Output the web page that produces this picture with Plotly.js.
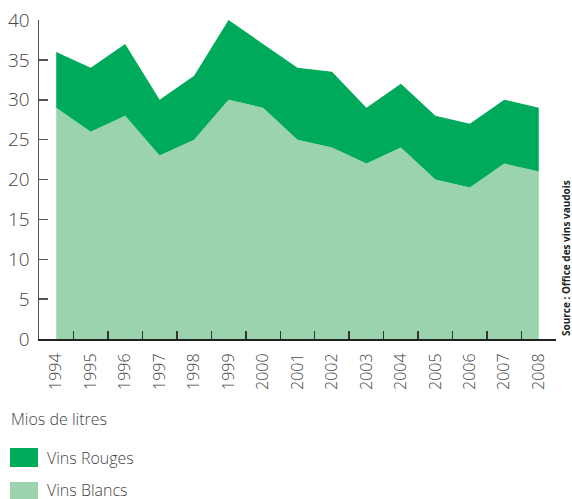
<!DOCTYPE html>
<html>
<head>
<meta charset="utf-8">
<script src="https://cdn.plot.ly/plotly-3.0.1.min.js"></script>
<style>html,body{margin:0;padding:0;background:#fff;}#chart{width:572px;height:499px;}</style>
</head>
<body>
<div id="chart"></div>
<script>
const years = ['1994','1995','1996','1997','1998','1999','2000','2001','2002','2003','2004','2005','2006','2007','2008'];
const vinsBlancs = [29, 26, 28, 23, 25, 30, 29, 25, 24, 22, 24, 20, 19, 22, 21];
const vinsRouges = [7, 8, 9, 7, 8, 10, 8, 9, 9.5, 7, 8, 8, 8, 8, 8];
const yTicks = [0, 5, 10, 15, 20, 25, 30, 35, 40];
const unitLabel = 'Mios de litres';
const sourceLabel = 'Source : Office des vins vaudois';
const seriesNames = ['Vins Rouges', 'Vins Blancs'];

const colRouge = '#00aa5b';
const colBlanc = '#9bd3ae';
const font = '"Open Sans", "DejaVu Sans", sans-serif';

const traces = [
  {x: years, y: vinsBlancs, name: seriesNames[1], type: 'scatter', mode: 'lines',
   stackgroup: 'one', line: {width: 0, color: colBlanc}, fillcolor: colBlanc, hoverinfo: 'skip'},
  {x: years, y: vinsRouges, name: seriesNames[0], type: 'scatter', mode: 'lines',
   stackgroup: 'one', line: {width: 0, color: colRouge}, fillcolor: colRouge, hoverinfo: 'skip'}
];

function px2x(px){ return (px - 39) / 517; }
function py2y(py){ return (339 - py) / 319; }

const layout = {
  width: 572, height: 499,
  margin: {l: 39, r: 16, t: 20, b: 160},
  paper_bgcolor: '#fff', plot_bgcolor: '#fff',
  showlegend: false,
  font: {family: font, color: '#444', weight: 300},
  xaxis: {
    type: 'category', range: [-0.5, 14.5], tickson: 'boundaries',
    ticks: 'inside', ticklen: 8, tickwidth: 1.5, tickcolor: '#333',
    showline: true, linecolor: '#222', linewidth: 2,
    showgrid: false, zeroline: false, tickangle: -90, ticklabelstandoff: 6,
    tickfont: {size: 16, color: '#444', family: font, weight: 300}, fixedrange: true
  },
  yaxis: {
    range: [0, 40], tickvals: yTicks, ticktext: yTicks.map(String),
    ticks: 'inside', ticklen: 9, tickwidth: 1.5, tickcolor: '#555',
    showline: true, linecolor: '#555', linewidth: 1.5,
    showgrid: false, zeroline: false, ticklabelstandoff: 4,
    tickfont: {size: 19, color: '#444', family: font, weight: 300}, fixedrange: true
  },
  shapes: [
    {type: 'rect', xref: 'paper', yref: 'paper', x0: px2x(10), x1: px2x(38), y0: py2y(467), y1: py2y(448),
     fillcolor: colRouge, line: {width: 0}},
    {type: 'rect', xref: 'paper', yref: 'paper', x0: px2x(10), x1: px2x(38), y0: py2y(499), y1: py2y(482),
     fillcolor: colBlanc, line: {width: 0}}
  ],
  annotations: [
    {xref: 'paper', yref: 'paper', x: px2x(9), y: py2y(419), xanchor: 'left', yanchor: 'middle',
     text: unitLabel, showarrow: false, font: {size: 16, color: '#444', family: font, weight: 300}},
    {xref: 'paper', yref: 'paper', x: px2x(45), y: py2y(458), xanchor: 'left', yanchor: 'middle',
     text: seriesNames[0], showarrow: false, font: {size: 16, color: '#444', family: font, weight: 300}},
    {xref: 'paper', yref: 'paper', x: px2x(45), y: py2y(490), xanchor: 'left', yanchor: 'middle',
     text: seriesNames[1], showarrow: false, font: {size: 16, color: '#444', family: font, weight: 300}},
    {xref: 'paper', yref: 'paper', x: px2x(566), y: py2y(338), xanchor: 'center', yanchor: 'bottom',
     textangle: -90, text: '<b>' + sourceLabel + '</b>', showarrow: false,
     font: {size: 10, color: '#222', family: font}}
  ]
};

Plotly.newPlot('chart', traces, layout, {displayModeBar: false, staticPlot: true});
</script>
</body>
</html>
